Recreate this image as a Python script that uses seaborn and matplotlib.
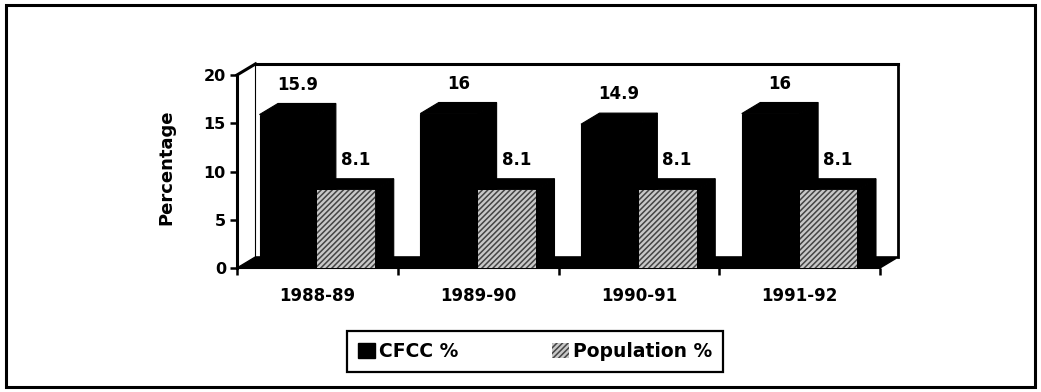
import matplotlib
matplotlib.use("Agg")
import matplotlib.pyplot as plt
import seaborn as sns
import pandas as pd
from matplotlib.patches import Polygon, Rectangle, Patch

# Chart data
years = ["1988-89", "1989-90", "1990-91", "1991-92"]
cfcc = [15.9, 16, 14.9, 16]
population = [8.1, 8.1, 8.1, 8.1]
series_names = ["CFCC %", "Population %"]
y_ticks = [0, 5, 10, 15, 20]

df = pd.DataFrame({
    "year": years * 2,
    "value": cfcc + population,
    "series": [series_names[0]] * len(years) + [series_names[1]] * len(years),
})

sns.set_theme(style="white", rc={
    "text.color": "black", "axes.labelcolor": "black",
    "xtick.color": "black", "ytick.color": "black",
    "axes.edgecolor": "black",
})
plt.rcParams["font.family"] = ["DejaVu Sans"]
plt.rcParams["font.weight"] = "bold"
plt.rcParams["hatch.linewidth"] = 1.1

W, H = 1041, 392
fig = plt.figure(figsize=(W / 100, H / 100), dpi=100)
fig.patch.set_facecolor("white")
ax = fig.add_axes([237 / W, 1 - 268 / H, 643 / W, 193 / H])
ax.set_facecolor("none")

pop_face = "#c8c8c8"
pop_hatch = "#444444"
palette = {series_names[0]: "black", series_names[1]: pop_face}
sns.barplot(data=df, x="year", y="value", hue="series", hue_order=series_names,
            palette=palette, width=0.72, dodge=True, ax=ax, legend=False,
            saturation=1, zorder=3)

ax.set_xlim(-0.5, len(years) - 0.5)
ax.set_ylim(0, 20)

# depth of the pseudo-3D extrusion (data units)
DX, DY = 0.115, 1.15

# floor slab
x_lo, x_hi = -0.5, len(years) - 0.5
ax.add_patch(Polygon([(x_lo, 0), (x_hi, 0), (x_hi + DX, DY), (x_lo + DX, DY)],
                     closed=True, facecolor="black", edgecolor="black",
                     lw=1, zorder=1, clip_on=False))

# back walls outline
wall_kw = dict(color="black", clip_on=False, zorder=1, solid_capstyle="projecting")
ax.plot([x_lo + DX, x_hi + DX], [20 + DY, 20 + DY], lw=2.2, **wall_kw)
ax.plot([x_hi + DX, x_hi + DX], [DY, 20 + DY], lw=2.0, **wall_kw)
ax.plot([x_lo + DX, x_lo + DX], [DY, 20 + DY], lw=0.8, **wall_kw)
ax.plot([x_lo, x_lo + DX], [20, 20 + DY], lw=2.2, **wall_kw)

# extrude each bar and label it
for ci, container in enumerate(ax.containers):
    for bar in container:
        x0, w, h = bar.get_x(), bar.get_width(), bar.get_height()
        top = Polygon([(x0, h), (x0 + w, h), (x0 + w + DX, h + DY), (x0 + DX, h + DY)],
                      closed=True, facecolor="black", edgecolor="black",
                      lw=0.8, zorder=2.5, clip_on=False)
        side = Polygon([(x0 + w, 0), (x0 + w + DX, DY), (x0 + w + DX, h + DY), (x0 + w, h)],
                       closed=True, facecolor="black", edgecolor="black",
                       lw=0.8, zorder=2.5, clip_on=False)
        ax.add_patch(top)
        ax.add_patch(side)
        if ci == 1:
            bar.set_hatch("//////")
            bar.set_edgecolor(pop_hatch)
            bar.set_linewidth(0)
        else:
            bar.set_edgecolor("black")
            bar.set_linewidth(0.8)
        ax.annotate(f"{h:g}", xy=(x0 + w / 2 + DX / 2, h + DY), xytext=(0, 7),
                    textcoords="offset points", ha="center", va="bottom",
                    fontsize=12, fontweight="bold", zorder=4, annotation_clip=False)

# axes styling
for s in ("top", "right"):
    ax.spines[s].set_visible(False)
ax.spines["left"].set_linewidth(2.2)
ax.spines["bottom"].set_linewidth(1.5)
ax.spines["left"].set_zorder(5)

ax.set_yticks(y_ticks)
ax.set_yticklabels([str(t) for t in y_ticks], fontsize=11.5, fontweight="bold")
ax.tick_params(axis="y", which="major", left=True, length=5, width=1.8,
               direction="out", pad=3)

ax.set_xticks(range(len(years)))
ax.set_xticklabels(years, fontsize=12, fontweight="bold")
ax.set_xticks([i - 0.5 for i in range(len(years) + 1)], minor=True)
ax.tick_params(axis="x", which="major", bottom=True, length=0, pad=14)
ax.tick_params(axis="x", which="minor", bottom=True, length=5, width=1.8,
               direction="out")

ax.set_xlabel("")
ax.set_ylabel("Percentage", fontsize=13, fontweight="bold")
ax.yaxis.set_label_coords(-0.096, 0.52)

# legend
handles = [Patch(facecolor="black", edgecolor="black"),
           Patch(facecolor=pop_face, hatch="//////", edgecolor=pop_hatch, lw=0)]
leg = fig.legend(handles, series_names, loc="center",
                 bbox_to_anchor=(535 / W, 1 - 351.5 / H), ncol=2,
                 frameon=True, fancybox=False, framealpha=1, edgecolor="black",
                 handlelength=0.9, handleheight=0.9, handletextpad=0.2,
                 columnspacing=5.0, borderpad=0.6,
                 prop=dict(weight="bold", size=13.5))
leg.get_frame().set_linewidth(1.6)

# outer border of the figure
fig.add_artist(Rectangle((6 / W, 1 - 387 / H), (1035 - 6) / W, (387 - 5) / H,
                         transform=fig.transFigure, fill=False,
                         edgecolor="black", lw=2.2))

fig.savefig("out.png", dpi=100)
